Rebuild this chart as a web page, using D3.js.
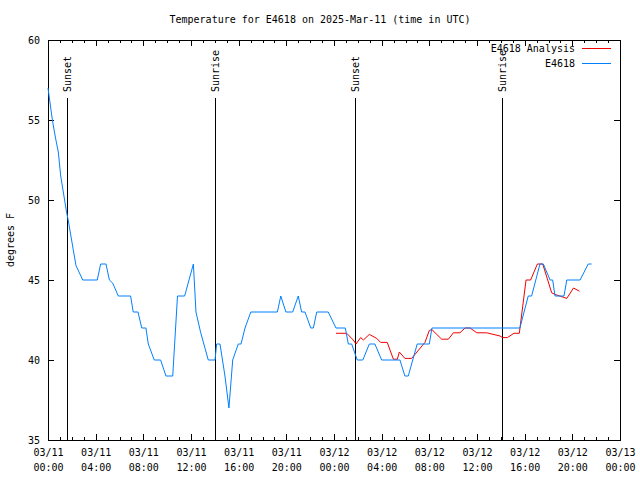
<!DOCTYPE html>
<html><head><meta charset="utf-8">
<script src="https://cdn.jsdelivr.net/npm/d3@7"></script>
<style>
html,body{margin:0;padding:0;background:#fff;}
text{font-family:"DejaVu Sans Mono","Liberation Mono",monospace;font-size:10px;fill:#000;}
</style></head>
<body><svg id="c" width="640" height="480"></svg>
<script>
const titleText = "Temperature for E4618 on 2025-Mar-11 (time in UTC)";
const yLabel = "degrees F";
const seriesNames = ["E4618 Analysis", "E4618"];
const yTicks = [35, 40, 45, 50, 55, 60];

// Observed series (E4618)
const obsTimes = ["2025-03-11 00:00","2025-03-11 00:22","2025-03-11 00:39","2025-03-11 00:52","2025-03-11 01:04","2025-03-11 01:34","2025-03-11 01:41","2025-03-11 02:07","2025-03-11 02:21","2025-03-11 02:55","2025-03-11 04:08","2025-03-11 04:25","2025-03-11 04:52","2025-03-11 05:09","2025-03-11 05:26","2025-03-11 05:54","2025-03-11 06:56","2025-03-11 07:09","2025-03-11 07:33","2025-03-11 07:52","2025-03-11 08:13","2025-03-11 08:25","2025-03-11 08:55","2025-03-11 09:27","2025-03-11 09:54","2025-03-11 10:28","2025-03-11 10:52","2025-03-11 11:28","2025-03-11 12:12","2025-03-11 12:25","2025-03-11 12:49","2025-03-11 13:27","2025-03-11 14:01","2025-03-11 14:09","2025-03-11 14:26","2025-03-11 14:51","2025-03-11 15:11","2025-03-11 15:30","2025-03-11 15:58","2025-03-11 16:12","2025-03-11 16:32","2025-03-11 17:01","2025-03-11 19:15","2025-03-11 19:32","2025-03-11 19:58","2025-03-11 20:32","2025-03-11 21:00","2025-03-11 21:17","2025-03-11 21:34","2025-03-11 22:03","2025-03-11 22:16","2025-03-11 22:33","2025-03-11 23:31","2025-03-12 00:10","2025-03-12 00:57","2025-03-12 01:12","2025-03-12 01:29","2025-03-12 01:57","2025-03-12 02:25","2025-03-12 02:58","2025-03-12 03:26","2025-03-12 04:00","2025-03-12 05:32","2025-03-12 05:57","2025-03-12 06:14","2025-03-12 06:59","2025-03-12 08:00","2025-03-12 08:13","2025-03-12 15:36","2025-03-12 16:18","2025-03-12 16:35","2025-03-12 17:17","2025-03-12 17:34","2025-03-12 18:08","2025-03-12 18:21","2025-03-12 18:33","2025-03-12 19:18","2025-03-12 19:32","2025-03-12 20:39","2025-03-12 21:20","2025-03-12 21:37"];
const obsValues = [57,55,53.8,53,51.5,49.2,48.8,46.9,45.9,45,45,46,46,45,44.8,44,44,43,43,42,42,41,40,40,39,39,44,44,46,43,41.7,40,40,41,41,39,37,40,41,41,42,43,43,44,43,43,44,43,43,42,42,43,43,42,42,41,41,40,40,41,41,40,40,39,39,41,41,42,42,44,44,46,46,45,45,44,44,45,45,46,46];

// Analysis series (E4618 Analysis)
const anaTimes = ["2025-03-12 00:10","2025-03-12 01:04","2025-03-12 01:37","2025-03-12 01:51","2025-03-12 02:14","2025-03-12 02:28","2025-03-12 02:58","2025-03-12 03:35","2025-03-12 03:55","2025-03-12 04:28","2025-03-12 04:59","2025-03-12 05:19","2025-03-12 05:29","2025-03-12 05:57","2025-03-12 06:31","2025-03-12 07:38","2025-03-12 08:00","2025-03-12 08:13","2025-03-12 09:02","2025-03-12 09:36","2025-03-12 10:01","2025-03-12 10:34","2025-03-12 11:00","2025-03-12 11:25","2025-03-12 11:59","2025-03-12 12:49","2025-03-12 13:56","2025-03-12 14:09","2025-03-12 14:33","2025-03-12 15:06","2025-03-12 15:33","2025-03-12 16:07","2025-03-12 16:30","2025-03-12 17:04","2025-03-12 17:31","2025-03-12 18:16","2025-03-12 18:33","2025-03-12 19:32","2025-03-12 20:06","2025-03-12 20:36"];
const anaValues = [41.67,41.67,41.25,41.0,41.4,41.25,41.6,41.35,41.1,41.1,40.05,40.05,40.5,40.1,40.1,41.1,41.85,41.9,41.3,41.3,41.7,41.7,42.0,42.0,41.7,41.7,41.5,41.4,41.4,41.67,41.67,45.0,45.0,46.0,46.0,44.2,44.1,43.85,44.5,44.3];

// Sun events
const sunLabels = ["Sunset","Sunrise","Sunset","Sunrise"];
const sunTimes = ["2025-03-11 01:37","2025-03-11 14:02","2025-03-12 01:47","2025-03-12 14:07"];

const xDomain = ["2025-03-11 00:00","2025-03-13 00:00"];
const yDomain = [35, 60];

const parse = d3.utcParse("%Y-%m-%d %H:%M");
const L = 48, R = 620, T = 40, B = 440;
const x = d3.scaleUtc().domain(xDomain.map(parse)).range([L, R]);
const y = d3.scaleLinear().domain(yDomain).range([B, T]);
const svg = d3.select("#c");

// Title
svg.append("text").attr("x", 320).attr("y", 23).attr("text-anchor", "middle").text(titleText);
// Y label
svg.append("text").attr("transform", "translate(14,240) rotate(-90)").attr("text-anchor", "middle").text(yLabel);

// Axes
const majorX = d3.utcHour.every(4), minorX = d3.utcHour.every(1);
const fmtD = d3.utcFormat("%m/%d"), fmtT = d3.utcFormat("%H:%M");

svg.append("g").attr("transform", `translate(0,${B})`)
  .call(d3.axisBottom(x).ticks(minorX).tickSize(-3).tickFormat(""));
svg.append("g").attr("transform", `translate(0,${T})`)
  .call(d3.axisTop(x).ticks(minorX).tickSize(-3).tickFormat(""));
const gxB = svg.append("g").attr("transform", `translate(0,${B})`)
  .call(d3.axisBottom(x).ticks(majorX).tickSize(-6).tickPadding(12).tickFormat(d => ""));
gxB.selectAll(".tick text").each(function(d){
  const t = d3.select(this);
  t.append("tspan").attr("x", 0).attr("dy", "0.35em").text(fmtD(d));
  t.append("tspan").attr("x", 0).attr("dy", "15").text(fmtT(d));
});
svg.append("g").attr("transform", `translate(0,${T})`)
  .call(d3.axisTop(x).ticks(majorX).tickSize(-6).tickFormat(""));
svg.append("g").attr("transform", `translate(${L},0)`)
  .call(d3.axisLeft(y).tickValues(yTicks).tickSize(-6).tickPadding(8).tickFormat(d3.format("d")));
svg.append("g").attr("transform", `translate(${R},0)`)
  .call(d3.axisRight(y).tickValues(yTicks).tickSize(-6).tickFormat(""));
svg.selectAll(".domain").remove();
svg.selectAll(".tick line").attr("stroke", "#000").attr("shape-rendering", "crispEdges");
svg.selectAll(".tick text").attr("font-family", null).attr("font-size", null).style("fill", "#000");

// Sun lines
sunTimes.forEach((s, i) => {
  const xx = Math.round(x(parse(s))) + 0.5;
  svg.append("line").attr("x1", xx).attr("x2", xx).attr("y1", 98).attr("y2", B)
    .attr("stroke", "#000").attr("stroke-width", 1);
  svg.append("text").attr("transform", `translate(${xx},92) rotate(-90)`)
    .attr("text-anchor", "start").attr("dy", "0.35em").text(sunLabels[i]);
});

// Frame
svg.append("rect").attr("x", L + 0.5).attr("y", T + 0.5).attr("width", R - L).attr("height", B - T)
  .attr("fill", "none").attr("stroke", "#000").attr("stroke-width", 1);

// Lines
const line = d3.line().x(d => x(d[0])).y(d => y(d[1]));
const ana = anaTimes.map((t, i) => [parse(t), anaValues[i]]);
const obs = obsTimes.map((t, i) => [parse(t), obsValues[i]]);
const colors = ["#f00000", "#0080ff"];
svg.append("path").datum(ana).attr("d", line).attr("fill", "none").attr("stroke", colors[0]).attr("stroke-width", 1);
svg.append("path").datum(obs).attr("d", line).attr("fill", "none").attr("stroke", colors[1]).attr("stroke-width", 1);

// Legend
seriesNames.forEach((n, i) => {
  const ly = 48 + i * 15;
  svg.append("text").attr("x", 575).attr("y", ly).attr("dy", "0.35em").attr("text-anchor", "end").text(n);
  svg.append("line").attr("x1", 582).attr("x2", 611).attr("y1", ly + 0.5).attr("y2", ly + 0.5)
    .attr("stroke", colors[i]).attr("stroke-width", 1);
});
</script></body></html>
